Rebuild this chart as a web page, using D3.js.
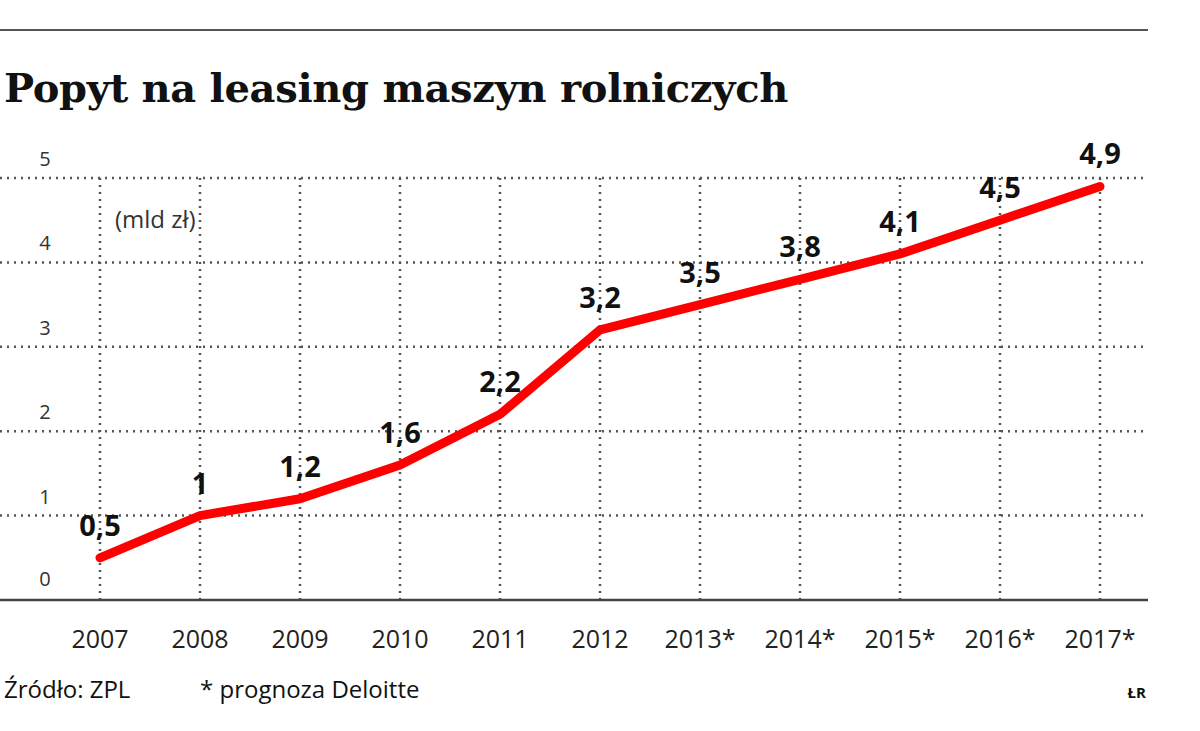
<!DOCTYPE html><html><head><meta charset="utf-8"><script src="https://cdn.jsdelivr.net/npm/d3@7"></script>
<style>body{margin:0;background:#fff}</style></head><body><svg id="c" width="1200" height="731"></svg><script>
const years=["2007","2008","2009","2010","2011","2012","2013*","2014*","2015*","2016*","2017*"];
const values=[0.5,1,1.2,1.6,2.2,3.2,3.5,3.8,4.1,4.5,4.9];
const labels=["0,5","1","1,2","1,6","2,2","3,2","3,5","3,8","4,1","4,5","4,9"];
const yTicks=[0,1,2,3,4,5];
const svg=d3.select("#c");
const x=d3.scalePoint().domain(years).range([100,1100]);
const y=d3.scaleLinear().domain([0,5]).range([600,178]);
svg.append("line").attr("x1",0).attr("x2",1148).attr("y1",30).attr("y2",30).attr("stroke","#555").attr("stroke-width",2);
svg.append("text").attr("x",4).attr("y",102).attr("font-family","DejaVu Serif").attr("font-weight","bold").attr("font-size",40).attr("letter-spacing",-0.3).attr("fill","#111").text("Popyt na leasing maszyn rolniczych");
const g=svg.append("g");
yTicks.filter(d=>d>0).forEach(t=>{
 g.append("line").attr("x1",0).attr("x2",1148).attr("y1",y(t)).attr("y2",y(t)).attr("stroke","#555").attr("stroke-width",2.5).attr("stroke-dasharray","2,5");
});
years.forEach(yr=>{
 g.append("line").attr("x1",x(yr)).attr("x2",x(yr)).attr("y1",y(5)).attr("y2",600).attr("stroke","#555").attr("stroke-width",2.5).attr("stroke-dasharray","2,5");
});
g.append("line").attr("x1",0).attr("x2",1148).attr("y1",600).attr("y2",600).attr("stroke","#444").attr("stroke-width",2.5);
yTicks.forEach(t=>{
 g.append("text").attr("x",45).attr("y",t===0?y(0)-14:y(t)-12).attr("text-anchor","middle").attr("font-family","Open Sans").attr("font-size",20).attr("fill","#333").text(t);
});
g.append("text").attr("x",115).attr("y",228).attr("font-family","Open Sans").attr("font-size",24).attr("fill","#333").text("(mld zł)");
years.forEach(yr=>{
 g.append("text").attr("x",x(yr)).attr("y",648).attr("text-anchor","middle").attr("font-family","Open Sans").attr("font-size",25).attr("fill","#222").text(yr);
});
const line=d3.line().x((d,i)=>x(years[i])).y(d=>y(d));
g.append("path").datum(values).attr("d",line).attr("fill","none").attr("stroke","#f00").attr("stroke-width",9).attr("stroke-linejoin","round").attr("stroke-linecap","round");
values.forEach((v,i)=>{
 g.append("text").attr("x",x(years[i])).attr("y",y(v)-22).attr("text-anchor","middle").attr("font-family","Open Sans").attr("font-weight","bold").attr("font-size",29).attr("fill","#111").text(labels[i]);
});
svg.append("text").attr("x",4).attr("y",698).attr("font-family","Open Sans").attr("font-size",24).attr("fill","#111").text("Źródło: ZPL");
svg.append("text").attr("x",200).attr("y",698).attr("font-family","Open Sans").attr("font-size",24).attr("fill","#111").text("* prognoza Deloitte");
svg.append("text").attr("x",1146).attr("y",698).attr("text-anchor","end").attr("font-family","Open Sans").attr("font-weight","bold").attr("font-size",15).attr("fill","#111").text("ŁR");
</script></body></html>
